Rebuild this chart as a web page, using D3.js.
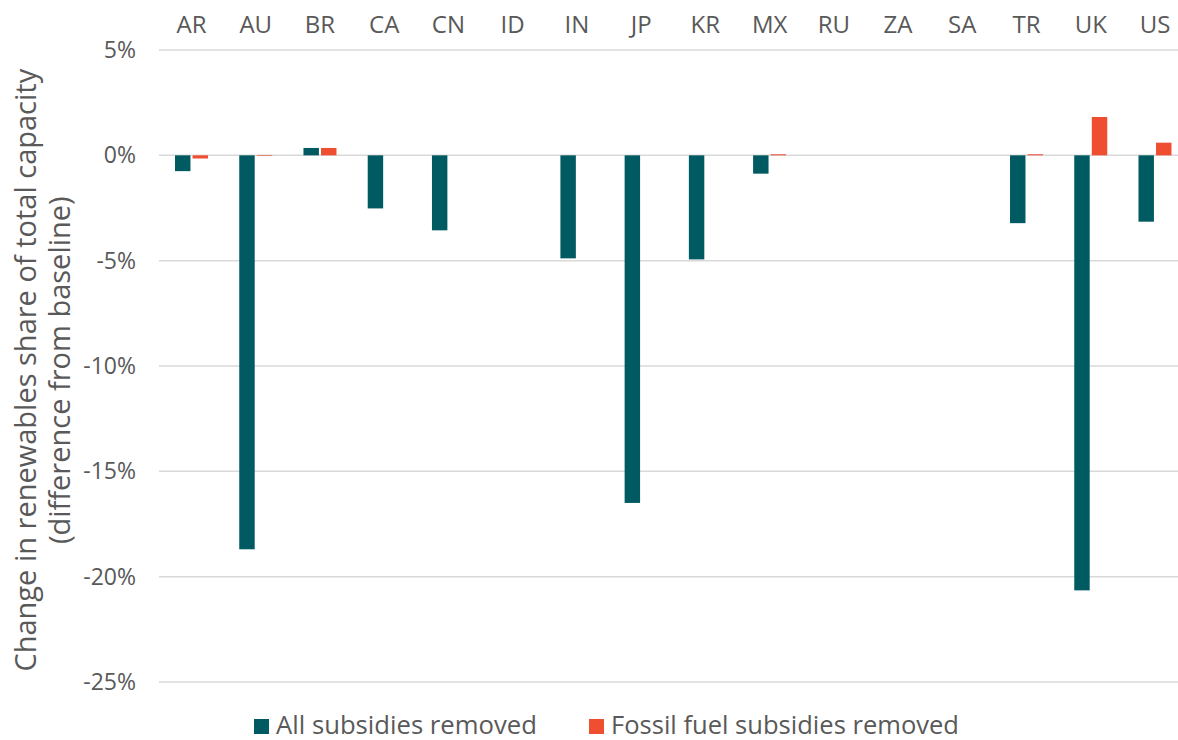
<!DOCTYPE html>
<html>
<head>
<meta charset="utf-8">
<script src="https://cdn.jsdelivr.net/npm/d3@7"></script>
<style>
  body { margin: 0; background: #fff; }
  svg { display: block; }
</style>
</head>
<body>
<svg id="chart"></svg>
<script>
(function() {

  const categories = ['AR', 'AU', 'BR', 'CA', 'CN', 'ID', 'IN', 'JP', 'KR', 'MX', 'RU', 'ZA', 'SA', 'TR', 'UK', 'US'];
  const seriesNames = ['All subsidies removed', 'Fossil fuel subsidies removed'];
  const allRemoved = [-0.75, -18.7, 0.35, -2.52, -3.56, 0, -4.89, -16.5, -4.94, -0.87, 0, 0, 0, -3.22, -20.65, -3.15];
  const fossilRemoved = [-0.15, -0.03, 0.35, 0, 0, 0, 0, 0, 0, 0.05, 0, 0, 0, 0.05, 1.82, 0.6];
  const yTicks = [5, 0, -5, -10, -15, -20, -25];
  const colors = ['#005a61', '#f04e31'];

  const width = 1178;
  const height = 740;
  const textColor = '#595959';

  const svg = d3.select('#chart')
    .attr('width', width)
    .attr('height', height);

  const x0 = d3.scaleBand().domain(categories).range([159.4, 1187.1]);
  const x1 = d3.scaleBand().domain(seriesNames).range([0, 33]).paddingInner(0.12);
  const y = d3.scaleLinear().domain([-25, 5]).range([682, 50]);

  // gridlines
  svg.append('g')
    .selectAll('line')
    .data(yTicks)
    .enter()
    .append('line')
    .attr('x1', 159)
    .attr('x2', width)
    .attr('y1', d => y(d))
    .attr('y2', d => y(d))
    .attr('stroke', '#d9d9d9')
    .attr('stroke-width', 1.5);

  // y axis labels
  const yAxis = d3.axisLeft(y).tickValues(yTicks).tickSize(0).tickPadding(0)
    .tickFormat(d => d + '%');
  const yG = svg.append('g')
    .attr('transform', 'translate(136,0)')
    .call(yAxis);
  yG.select('.domain').remove();
  yG.selectAll('text')
    .attr('fill', textColor)
    .style('font-family', '"Open Sans", sans-serif')
    .style('font-size', '23px');

  // category labels on top
  const xAxis = d3.axisTop(x0).tickSize(0).tickPadding(0);
  const xG = svg.append('g')
    .attr('transform', 'translate(0,33)')
    .call(xAxis);
  xG.select('.domain').remove();
  xG.selectAll('text')
    .attr('fill', textColor)
    .attr('dy', 0)
    .style('font-family', '"Open Sans", sans-serif')
    .style('font-size', '24px');

  // bars
  const rows = categories.map((c, i) => ({
    cat: c,
    values: [allRemoved[i], fossilRemoved[i]]
  }));

  const group = svg.append('g')
    .selectAll('g')
    .data(rows)
    .enter()
    .append('g')
    .attr('transform', d => 'translate(' + (x0(d.cat) + x0.bandwidth() / 2 - 16.5) + ',0)');

  group.selectAll('rect')
    .data(d => d.values.map((v, j) => ({ name: seriesNames[j], value: v, j: j })))
    .enter()
    .append('rect')
    .attr('x', d => x1(d.name))
    .attr('width', x1.bandwidth())
    .attr('y', d => y(Math.max(0, d.value)))
    .attr('height', d => Math.abs(y(d.value) - y(0)))
    .attr('fill', d => colors[d.j]);

  // y axis title
  const title = svg.append('g')
    .attr('transform', 'translate(0,' + y(-10.2) + ') rotate(-90)');
  title.append('text')
    .attr('x', 0)
    .attr('y', 36)
    .attr('text-anchor', 'middle')
    .attr('fill', textColor)
    .style('font-family', '"Open Sans", sans-serif')
    .style('font-size', '29px')
    .text('Change in renewables share of total capacity');
  title.append('text')
    .attr('x', 0)
    .attr('y', 70)
    .attr('text-anchor', 'middle')
    .attr('fill', textColor)
    .style('font-family', '"Open Sans", sans-serif')
    .style('font-size', '29px')
    .text('(difference from baseline)');

  // legend
  const legendX = [254, 589];
  const legendLen = [261, 348];
  const legend = svg.append('g')
    .selectAll('g')
    .data(seriesNames)
    .enter()
    .append('g')
    .attr('transform', (d, i) => 'translate(' + legendX[i] + ',0)');
  legend.append('rect')
    .attr('x', 0)
    .attr('y', 719)
    .attr('width', 15)
    .attr('height', 15)
    .attr('fill', (d, i) => colors[i]);
  legend.append('text')
    .attr('x', 22)
    .attr('y', 734)
    .attr('fill', textColor)
    .attr('textLength', (d, i) => legendLen[i])
    .attr('lengthAdjust', 'spacingAndGlyphs')
    .style('font-family', '"Open Sans", sans-serif')
    .style('font-size', '25px')
    .text(d => d);

})();
</script>
</body>
</html>
